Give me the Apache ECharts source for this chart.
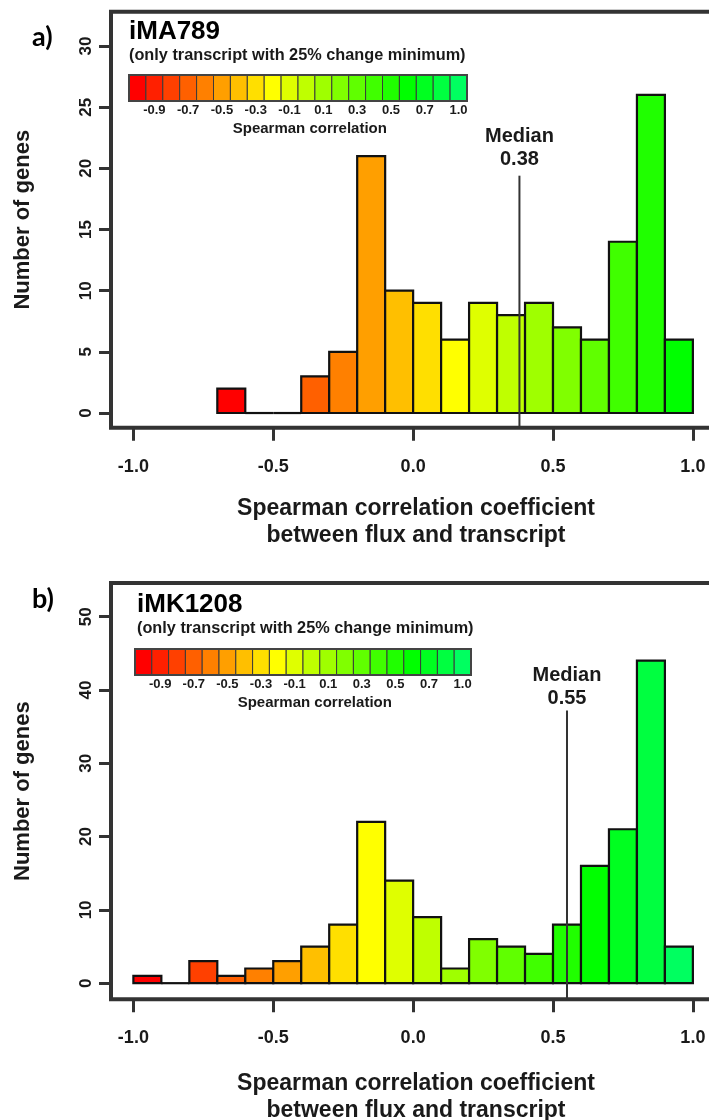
<!DOCTYPE html>
<html>
<head>
<meta charset="utf-8">
<script src="https://cdn.jsdelivr.net/npm/echarts@6/dist/echarts.min.js"></script>
<style>
  html, body { margin: 0; padding: 0; background: #ffffff; }
  #chart { width: 709px; height: 1120px; }
</style>
</head>
<body>
<div id="chart"></div>
<script>
// Histogram bins of Spearman rho, -1 to 1 in steps of 0.1
const binEdges = [-1.0, -0.9, -0.8, -0.7, -0.6, -0.5, -0.4, -0.3, -0.2, -0.1, 0.0,
                  0.1, 0.2, 0.3, 0.4, 0.5, 0.6, 0.7, 0.8, 0.9, 1.0];

// Number of genes in each bin
const countsMA789  = [0, 0, 0, 2, 0, 0, 3, 5, 21, 10, 9, 6, 9, 8, 9, 7, 6, 14, 26, 6];
const countsMK1208 = [1, 0, 3, 1, 2, 3, 5, 8, 22, 14, 9, 2, 6, 5, 4, 8, 16, 21, 44, 5];

// Medians of the correlation distribution
const medianMA789 = 0.38;
const medianMK1208 = 0.55;

// Axis ticks
const xTickValues = [-1.0, -0.5, 0.0, 0.5, 1.0];
const yTicksMA789 = [0, 5, 10, 15, 20, 25, 30];
const yTicksMK1208 = [0, 10, 20, 30, 40, 50];

// Colour bar tick labels (under every second cell)
const colorbarTickLabels = ['-0.9', '-0.7', '-0.5', '-0.3', '-0.1', '0.1', '0.3', '0.5', '0.7', '1.0'];

// 20-step red -> yellow -> green ramp (hue 0..142.5 deg)
const rampColors = ['#FF0000', '#FF2000', '#FF4000', '#FF6000', '#FF8000', '#FF9F00', '#FFBF00',
                    '#FFDF00', '#FFFF00', '#DFFF00', '#BFFF00', '#9FFF00', '#80FF00', '#60FF00',
                    '#40FF00', '#20FF00', '#00FF00', '#00FF20', '#00FF40', '#00FF60'];

const FONT = "'Liberation Sans', Arial, Helvetica, sans-serif";
const INK = '#1a1a1a';
const FRAME = '#333333';

// Layout of the two panels
const panels = [
  {
    letter: 'a)', letterTop: 39,
    model: 'iMA789', titleLeft: 129, titleY: 32, subY: 56,
    counts: countsMA789, median: medianMA789, medianTop: 19.4, medianGap: 4.5,
    yTicks: yTicksMA789, yMin: -1.2, yMax: 32.8,
    gridTop: 11.75, gridBottom: 692.3, nameGap: 67,
    bar: { x: 129, y: 75, w: 338, h: 26 }
  },
  {
    letter: 'b)', letterTop: 601,
    model: 'iMK1208', titleLeft: 137, titleY: 605, subY: 629,
    counts: countsMK1208, median: medianMK1208, medianTop: 37.2, medianGap: 0.5,
    yTicks: yTicksMK1208, yMin: -2.2, yMax: 54.6,
    gridTop: 583, gridBottom: 120.7, nameGap: 71,
    bar: { x: 135, y: 649, w: 336, h: 26 }
  }
];

// Bins from the first non-empty one onwards; colours start at the ramp's red end there
function histogramData(counts) {
  const first = counts.findIndex(c => c > 0);
  const rows = [];
  for (let i = first; i < counts.length; i++) {
    rows.push([binEdges[i], binEdges[i + 1], counts[i], i - first]);
  }
  return rows;
}

const grids = [], xAxes = [], yAxes = [], series = [], graphics = [];

panels.forEach((p, k) => {
  // plot box; its right side runs past the page edge
  grids.push({
    left: 111, right: -12, top: p.gridTop, bottom: p.gridBottom,
    show: true, borderColor: FRAME, borderWidth: 4, backgroundColor: 'transparent',
    outerBoundsMode: 'none'
  });

  xAxes.push({
    type: 'value', gridIndex: k, min: -1.08, max: 1.1005, position: 'bottom',
    axisLine: { show: false, onZero: false },
    splitLine: { show: false },
    axisTick: { show: true, length: 13, customValues: xTickValues,
                lineStyle: { color: FRAME, width: 3 } },
    axisLabel: { show: true, customValues: xTickValues, margin: 30,
                 formatter: v => v.toFixed(1),
                 color: INK, fontFamily: FONT, fontWeight: 'bold', fontSize: 18 },
    name: 'Spearman correlation coefficient\nbetween flux and transcript',
    nameLocation: 'middle', nameGap: p.nameGap,
    nameTextStyle: { color: INK, fontFamily: FONT, fontWeight: 'bold', fontSize: 23, lineHeight: 27 }
  });

  yAxes.push({
    type: 'value', gridIndex: k, min: p.yMin, max: p.yMax, position: 'left',
    axisLine: { show: false, onZero: false },
    splitLine: { show: false },
    axisTick: { show: true, length: 12, customValues: p.yTicks,
                lineStyle: { color: FRAME, width: 3 } },
    axisLabel: { show: true, customValues: p.yTicks, rotate: 90, margin: 16,
                 color: INK, fontFamily: FONT, fontWeight: 'bold', fontSize: 17 },
    name: 'Number of genes', nameLocation: 'middle', nameGap: 77,
    nameTextStyle: { color: INK, fontFamily: FONT, fontWeight: 'bold', fontSize: 22 }
  });

  // Histogram bars
  series.push({
    type: 'custom', xAxisIndex: k, yAxisIndex: k,
    data: histogramData(p.counts),
    renderItem: (params, api) => {
      const lo = api.value(0), hi = api.value(1), n = api.value(2), ci = api.value(3);
      const p0 = api.coord([lo, 0]);
      const p1 = api.coord([hi, n]);
      if (n === 0) {
        return { type: 'line', shape: { x1: p0[0], y1: p0[1], x2: p1[0], y2: p0[1] },
                 style: { stroke: '#111', lineWidth: 2.2 } };
      }
      return {
        type: 'rect',
        shape: { x: p0[0], y: p1[1], width: p1[0] - p0[0], height: p0[1] - p1[1] },
        style: { fill: rampColors[ci], stroke: '#111', lineWidth: 2.2 }
      };
    },
    z: 2
  });

  // Median line with its label
  series.push({
    type: 'custom', xAxisIndex: k, yAxisIndex: k,
    data: [[p.median, p.medianTop]],
    renderItem: (params, api) => {
      const m = api.value(0), top = api.value(1);
      const pt = api.coord([m, top]);
      const pb = api.coord([m, p.yMin]);
      return {
        type: 'group',
        children: [
          { type: 'line', shape: { x1: pt[0], y1: pt[1], x2: pb[0], y2: pb[1] },
            style: { stroke: FRAME, lineWidth: 2 } },
          { type: 'text', x: pt[0], y: pt[1] - p.medianGap,
            style: { text: 'Median\n' + m.toFixed(2), align: 'center', verticalAlign: 'bottom',
                     fill: INK, font: 'bold 20px ' + FONT, lineHeight: 23 } }
        ]
      };
    },
    z: 3
  });

  // Panel letter
  graphics.push({
    type: 'text', left: 32, top: p.letterTop - 15,
    style: { text: p.letter, fill: '#000', font: "bold 27px Lato, 'Open Sans', sans-serif" }
  });

  // Model name and subtitle
  graphics.push({
    type: 'text', x: p.titleLeft, y: p.titleY,
    style: { text: p.model, fill: '#000', font: 'bold 26px ' + FONT, verticalAlign: 'middle' }
  });
  graphics.push({
    type: 'text', x: p.titleLeft, y: p.subY,
    style: { text: '(only transcript with 25% change minimum)', fill: INK,
             font: 'bold 16.3px ' + FONT, verticalAlign: 'middle' }
  });

  // Colour bar
  const b = p.bar, cw = b.w / rampColors.length;
  rampColors.forEach((c, i) => {
    graphics.push({
      type: 'rect', shape: { x: b.x + i * cw, y: b.y, width: cw, height: b.h },
      style: { fill: c, stroke: '#3a3a3a', lineWidth: 1 }
    });
  });
  graphics.push({
    type: 'rect', shape: { x: b.x, y: b.y, width: b.w, height: b.h },
    style: { fill: 'none', stroke: '#444', lineWidth: 2 }
  });
  colorbarTickLabels.forEach((t, j) => {
    graphics.push({
      type: 'text', x: b.x + (2 * j + 1.5) * cw, y: b.y + b.h + 9,
      style: { text: t, fill: INK, font: 'bold 13px ' + FONT, align: 'center', verticalAlign: 'middle' }
    });
  });
  graphics.push({
    type: 'text', x: b.x + 0.535 * b.w, y: b.y + b.h + 28,
    style: { text: 'Spearman correlation', fill: INK, font: 'bold 15px ' + FONT,
             align: 'center', verticalAlign: 'middle' }
  });
});

const chart = echarts.init(document.getElementById('chart'), null, { renderer: 'canvas' });
chart.setOption({
  animation: false,
  backgroundColor: '#ffffff',
  grid: grids,
  xAxis: xAxes,
  yAxis: yAxes,
  series: series,
  graphic: graphics
});
</script>
</body>
</html>
